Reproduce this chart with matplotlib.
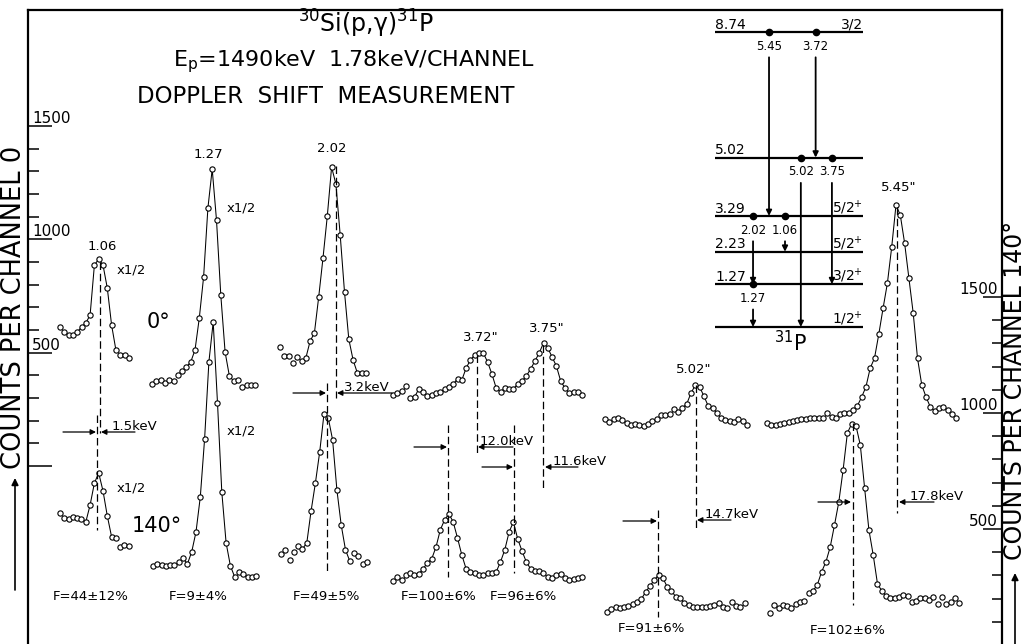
import numpy as np
import matplotlib.pyplot as plt

plt.rcParams['font.family'] = ['DejaVu Sans']

# ---- spectra: counts per channel ----
# 0 deg detector (left scale), 140 deg detector (right scale)
s106_0 = [613, 591, 578, 578, 591, 613, 631, 666, 887, 913, 887, 785, 622, 512, 490, 490, 476]
s106_140 = [569, 547, 543, 552, 547, 543, 530, 603, 698, 741, 664, 556, 466, 461, 423, 431, 427]
s127_0 = [362, 375, 379, 366, 379, 375, 401, 419, 437, 459, 512, 653, 834, 1138, 1310, 1085,
          754, 503, 397, 375, 379, 349, 357, 357, 357]
s127_140 = [341, 349, 345, 341, 345, 345, 358, 375, 349, 401, 487, 638, 888, 1220, 1392, 1043,
            659, 440, 341, 293, 315, 306, 293, 293, 297]
s202_0 = [525, 485, 485, 454, 481, 463, 476, 551, 587, 746, 918, 1103, 1319, 1244, 1019, 768,
          560, 468, 410, 410, 410]
s202_140 = [392, 410, 366, 401, 427, 414, 440, 578, 698, 832, 996, 978, 884, 668, 517, 410,
            361, 397, 384, 349, 358]
s372_0 = [313, 322, 331, 353, 300, 304, 340, 326, 309, 313, 322, 326, 340, 349, 362, 384, 379,
          432, 468, 490, 499, 499, 459, 406, 344, 326, 344, 340, 340, 362, 375, 397, 428, 463,
          499, 543, 521, 481, 441, 375, 344, 322, 326, 326, 313]
s372_140 = [276, 293, 280, 302, 310, 302, 306, 328, 354, 371, 422, 496, 539, 565, 530, 461, 388,
            328, 315, 310, 302, 302, 310, 310, 315, 358, 410, 487, 530, 457, 405, 358, 328, 319,
            319, 310, 293, 289, 302, 306, 289, 280, 284, 289, 293]
s502_0 = [207, 194, 207, 212, 203, 190, 181, 185, 181, 176, 185, 199, 207, 225, 225, 229, 251,
          238, 256, 274, 322, 357, 349, 309, 265, 256, 234, 212, 203, 199, 194, 207, 199, 181]
s502_140 = [142, 155, 164, 160, 164, 168, 177, 185, 198, 229, 254, 280, 302, 289, 250, 233, 207,
            203, 181, 173, 164, 164, 164, 164, 168, 173, 181, 164, 160, 185, 168, 164, 181]
s545_0 = [190, 181, 181, 185, 190, 194, 199, 203, 207, 207, 212, 212, 212, 212, 234, 216, 212,
          229, 234, 234, 247, 265, 304, 349, 432, 476, 582, 697, 807, 966, 1152, 1107, 984, 829,
          675, 476, 357, 304, 260, 243, 256, 260, 247, 229, 212]
s545_140 = [138, 172, 160, 172, 168, 160, 177, 185, 190, 224, 233, 259, 315, 358, 422, 517, 616,
            754, 914, 953, 944, 862, 677, 496, 388, 263, 233, 211, 203, 203, 207, 216, 211, 185,
            190, 203, 203, 194, 207, 177, 207, 177, 185, 203, 181]

# where each spectrum sits along the page, and which channels the drawn curve joins
spectra = [
    (s106_0, 'left', 60, 4, 13), (s106_140, 'right', 60, 6, 13),
    (s127_0, 'left', 152, 6, 19), (s127_140, 'right', 153, 7, 19),
    (s202_0, 'left', 280, 6, 18), (s202_140, 'right', 281, 5, 16),
    (s372_0, 'left', 393, 4, 42), (s372_140, 'right', 393, 3, 33),
    (s502_0, 'left', 605, 16, 28), (s502_140, 'right', 607, 7, 18),
    (s545_0, 'left', 767, 17, 41), (s545_140, 'right', 770, 9, 27),
]
step = 4.3

# level scheme of 31P
levels = [0.0, 1.27, 2.23, 3.29, 5.02, 8.74]
level_names = ['', '1.27', '2.23', '3.29', '5.02', '8.74']
spins = ['1/2$^{+}$', '3/2$^{+}$', '5/2$^{+}$', '5/2$^{+}$', '', '3/2']
gammas = [(8.74, 3.29, 0.365, '5.45'), (8.74, 5.02, 0.68, '3.72'),
          (5.02, 0.0, 0.58, '5.02'), (5.02, 1.27, 0.79, '3.75'),
          (3.29, 1.27, 0.257, '2.02'), (3.29, 2.23, 0.473, '1.06'),
          (1.27, 0.0, 0.257, '1.27')]

W, H = 1026, 644
fig = plt.figure(figsize=(W / 100, H / 100), dpi=100)

ax = fig.add_axes([28 / W, 0, (1002 - 28) / W, (H - 10) / H])
ax2 = ax.twinx()
ax.set_xlim(28, 1002)
ax.set_ylim(-785, 2012)
ax2.set_ylim(4, 2737)
ax.set_xticks([])

ax.spines['bottom'].set_visible(False)
ax.spines['right'].set_visible(False)
for s in ['bottom', 'left', 'top']:
    ax2.spines[s].set_visible(False)
ax.spines['left'].set_linewidth(1.6)
ax.spines['top'].set_linewidth(1.6)
ax2.spines['right'].set_linewidth(1.6)

ax.set_yticks([0, 500, 1000, 1500], ['', '500', '1000', '1500'])
ax.set_yticks(np.arange(100, 1500, 100), minor=True)
ax.tick_params(axis='y', which='major', direction='in', length=17, width=1.1, pad=-3, labelsize=11)
ax.tick_params(axis='y', which='minor', direction='in', length=8, width=1.1)
plt.setp(ax.get_yticklabels(), ha='left', va='bottom')

ax2.set_yticks([500, 1000, 1500], ['500', '1000', '1500'])
ax2.set_yticks(np.arange(100, 1600, 100), minor=True)
ax2.tick_params(axis='y', which='major', direction='in', length=14, width=1.1, pad=-3, labelsize=11)
ax2.tick_params(axis='y', which='minor', direction='in', length=7, width=1.1)
plt.setp(ax2.get_yticklabels(), ha='right', va='bottom')

for counts, side, x0, i0, i1 in spectra:
    a = ax if side == 'left' else ax2
    x = x0 + step * np.arange(len(counts))
    y = np.array(counts)
    a.plot(x[i0:i1 + 1], y[i0:i1 + 1], color='black', lw=0.75, zorder=2)
    a.plot(x, y, 'o', ms=3.8, mfc='white', mec='black', mew=0.8, zorder=3)

# overlay in page pixels for the annotations
ov = fig.add_axes([0, 0, 1, 1], facecolor='none')
ov.set_xlim(0, W)
ov.set_ylim(H, 0)
ov.axis('off')

centroids = [(100, 262, 433), (97, 415, 530), (336, 166, 398), (327, 383, 572),
             (477, 355, 455), (543, 345, 488), (448, 425, 577), (514, 425, 573),
             (696, 385, 530), (658, 510, 617), (897, 207, 513), (853, 423, 605)]
for x, y0, y1 in centroids:
    ov.plot([x, x], [y0, y1], color='black', lw=0.9, ls=(0, (6, 3)))

shifts = [(63, 96, 432), (135, 101, 432), (293, 326, 393), (392, 337, 393),
          (414, 447, 447), (513, 478, 447), (482, 513, 467), (578, 545, 467),
          (623, 657, 521), (731, 697, 520), (818, 851, 502), (934, 899, 502)]
for xa, xb, y in shifts:
    ov.annotate('', xy=(xb, y), xytext=(xa, y),
                arrowprops=dict(arrowstyle='-|>', color='black', lw=0.9,
                                mutation_scale=8, shrinkA=0, shrinkB=0))

small = [(112, 430, '1.5keV'), (344, 391, '3.2keV'), (480, 445, '12.0keV'),
         (553, 465, '11.6keV'), (705, 518, '14.7keV'), (910, 500, '17.8keV')]
for x, y, t in small:
    ov.text(x, y, t, fontsize=9.5, ha='left', va='baseline')

peak_names = [(102, 246, '1.06'), (208, 154, '1.27'), (332, 148, '2.02'), (481, 337, '3.72"'),
              (547, 328, '3.75"'), (694, 369, '5.02"'), (899, 187, '5.45"')]
for x, y, t in peak_names:
    ov.text(x, y, t, fontsize=9.5, ha='center', va='center')

for x, y in [(117, 270), (227, 208), (227, 431), (117, 488)]:
    ov.text(x, y, 'x1/2', fontsize=9.5, ha='left', va='center')

ov.text(158, 322, '0°', fontsize=15, ha='center', va='center')
ov.text(157, 526, '140°', fontsize=15, ha='center', va='center')

f_labels = [(91, 597, 'F=44±12%'), (198, 597, 'F=9±4%'), (326, 597, 'F=49±5%'),
            (439, 597, 'F=100±6%'), (523, 597, 'F=96±6%'), (651, 629, 'F=91±6%'),
            (848, 630, 'F=102±6%')]
for x, y, t in f_labels:
    ov.text(x, y, t, fontsize=9.5, ha='center', va='center')

ov.text(366, 24, '$^{30}$Si(p,γ)$^{31}$P', fontsize=17, ha='center', va='center')
ov.text(354, 62, 'E$_\\mathrm{p}$=1490keV  1.78keV/CHANNEL', fontsize=16, ha='center', va='center')
ov.text(326, 96, 'DOPPLER  SHIFT  MEASUREMENT', fontsize=16.5, ha='center', va='center')

ov.text(14, 307, 'COUNTS PER CHANNEL 0', fontsize=18.5, rotation=90, ha='center', va='center')
ov.text(1015, 390, 'COUNTS PER CHANNEL 140°', fontsize=17, rotation=90, ha='center', va='center')
for x, ya, yb in [(15, 590, 478), (1015, 644, 573)]:
    ov.annotate('', xy=(x, yb), xytext=(x, ya),
                arrowprops=dict(arrowstyle='-|>', color='black', lw=1.2,
                                mutation_scale=10, shrinkA=0, shrinkB=0))

# level scheme
ls = fig.add_axes([715 / W, (H - 327) / H, 148 / W, 295 / H])
ls.set_xlim(0, 1)
ls.set_ylim(0, 8.74)
ls.axis('off')
for e, name, sp in zip(levels, level_names, spins):
    ls.plot([0, 1], [e, e], color='black', lw=1.6, solid_capstyle='butt', clip_on=False)
    ls.text(0.0, e + 0.1, name, fontsize=10, ha='left', va='baseline')
    ls.text(1.0, e + 0.1, sp, fontsize=10, ha='right', va='baseline')
for e_from, e_to, xg, t in gammas:
    ls.plot([xg], [e_from], 'o', color='black', ms=4.5, clip_on=False)
    ls.text(xg, e_from - 0.42, t, fontsize=8.5, ha='center', va='center')
    ls.annotate('', xy=(xg, e_to), xytext=(xg, e_from - 0.75),
                arrowprops=dict(arrowstyle='-|>', color='black', lw=1.3,
                                mutation_scale=8, shrinkA=0, shrinkB=0))
ls.text(0.51, -0.45, '$^{31}$P', fontsize=15, ha='center', va='center')

fig.savefig('out.png', dpi=100)
